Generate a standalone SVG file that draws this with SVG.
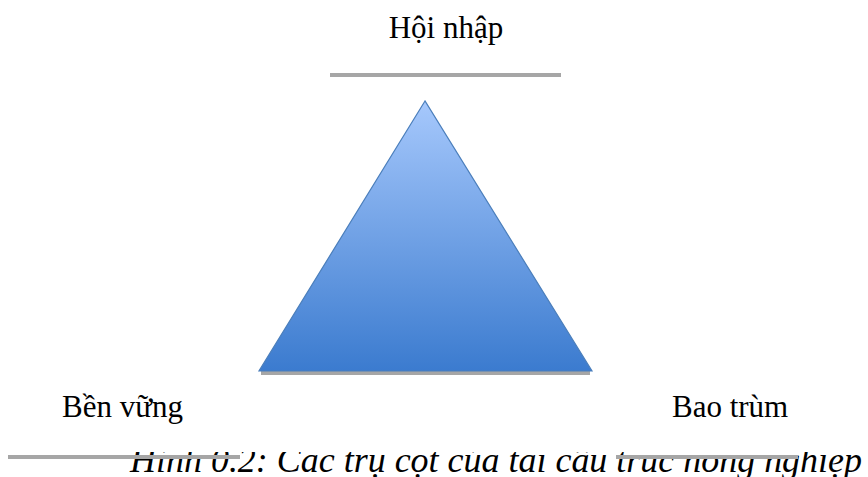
<svg xmlns="http://www.w3.org/2000/svg" width="868" height="477" viewBox="0 0 868 477">
<style>
.lbl{font-family:"Liberation Serif","Times New Roman",serif;font-size:31px;fill:#000}
.cap{font-family:"Liberation Serif","Times New Roman",serif;font-size:36px;font-style:italic;fill:#000}
.bar{stroke:#a6a6a6;stroke-width:4;fill:none}
</style>
<defs>
<linearGradient id="g" x1="0" y1="0" x2="0" y2="1">
<stop offset="0" stop-color="#a6c8fc"/>
<stop offset="1" stop-color="#3b7bcf"/>
</linearGradient>
<clipPath id="capclip"><rect x="0" y="452" width="868" height="25"/></clipPath>
</defs>
<rect width="868" height="477" fill="#fff"/>
<g id="top">
<text class="lbl" x="446" y="38" text-anchor="middle">Hội nhập</text>
<line class="bar" x1="330" y1="75" x2="561" y2="75"/>
</g>
<g id="triangle">
<rect x="261" y="371" width="329" height="4" fill="#a6a6a6"/>
<polygon points="425,101 259,371 592,371" fill="url(#g)" stroke="#4a7ebb" stroke-width="1.2"/>
</g>
<g id="left">
<text class="lbl" x="62" y="417">Bền vững</text>
</g>
<g id="right">
<text class="lbl" x="672" y="417">Bao trùm</text>
</g>
<g id="caption">
<text class="cap" x="130" y="472" clip-path="url(#capclip)" textLength="732" lengthAdjust="spacingAndGlyphs">Hình 0.2: Các trụ cột của tái cấu trúc nông nghiệp</text>
<line class="bar" x1="8" y1="457" x2="240" y2="457"/>
<line class="bar" x1="616" y1="457" x2="798" y2="457"/>
</g>
</svg>
